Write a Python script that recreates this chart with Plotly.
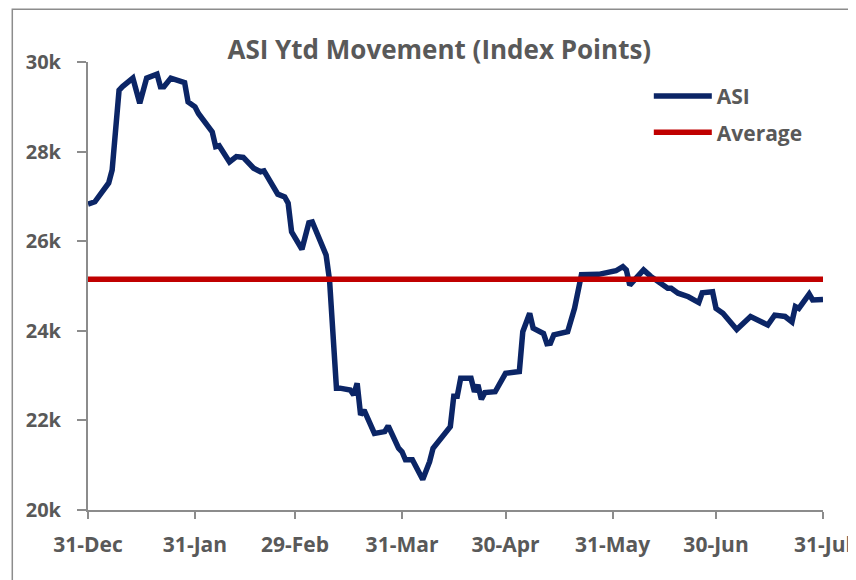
import plotly.graph_objects as go

# ASI daily close, 31-Dec-2019 to 31-Jul-2020
dates = [
    "2019-12-31", "2020-01-02", "2020-01-06", "2020-01-07", "2020-01-09", "2020-01-10",
    "2020-01-13", "2020-01-15", "2020-01-17", "2020-01-20", "2020-01-21", "2020-01-22",
    "2020-01-24", "2020-01-28", "2020-01-29", "2020-01-31", "2020-02-01", "2020-02-05",
    "2020-02-06", "2020-02-07", "2020-02-10", "2020-02-12", "2020-02-14", "2020-02-17",
    "2020-02-19", "2020-02-20", "2020-02-24", "2020-02-26", "2020-02-27", "2020-02-28",
    "2020-03-02", "2020-03-04", "2020-03-05", "2020-03-06", "2020-03-09", "2020-03-10",
    "2020-03-11", "2020-03-12", "2020-03-13", "2020-03-16", "2020-03-17", "2020-03-18",
    "2020-03-19", "2020-03-20", "2020-03-23", "2020-03-26", "2020-03-27", "2020-03-30",
    "2020-03-31", "2020-04-01", "2020-04-03", "2020-04-06", "2020-04-08", "2020-04-09",
    "2020-04-14", "2020-04-15", "2020-04-16", "2020-04-17", "2020-04-20", "2020-04-21",
    "2020-04-22", "2020-04-23", "2020-04-24", "2020-04-27", "2020-04-30", "2020-05-04",
    "2020-05-05", "2020-05-07", "2020-05-08", "2020-05-11", "2020-05-12", "2020-05-13",
    "2020-05-14", "2020-05-18", "2020-05-20", "2020-05-22", "2020-05-27", "2020-05-29",
    "2020-06-01", "2020-06-03", "2020-06-04", "2020-06-05", "2020-06-09", "2020-06-11",
    "2020-06-16", "2020-06-17", "2020-06-19", "2020-06-22", "2020-06-25", "2020-06-26",
    "2020-06-29", "2020-06-30", "2020-07-01", "2020-07-02", "2020-07-06", "2020-07-09",
    "2020-07-10", "2020-07-15", "2020-07-17", "2020-07-20", "2020-07-22", "2020-07-23",
    "2020-07-24", "2020-07-27", "2020-07-28", "2020-07-31",
]
asi = [
    26830, 26880, 27300, 27590, 29370, 29450,
    29640, 29080, 29640, 29730, 29450, 29450,
    29640, 29540, 29110, 29000, 28850, 28440,
    28110, 28130, 27770, 27890, 27870, 27630,
    27550, 27570, 27050, 26990, 26850, 26210,
    25820, 26410, 26430, 26250, 25690, 25130,
    24090, 22720, 22720, 22680, 22570, 22830,
    22120, 22230, 21710, 21750, 21880, 21380,
    21300, 21120, 21120, 20680, 21080, 21380,
    21860, 22540, 22540, 22940, 22940, 22640,
    22790, 22470, 22620, 22640, 23050, 23090,
    23980, 24390, 24060, 23940, 23710, 23720,
    23910, 23980, 24500, 25250, 25260, 25300,
    25340, 25430, 25360, 25020, 25360, 25220,
    24950, 24950, 24840, 24760, 24630, 24850,
    24870, 24500, 24460, 24390, 24030, 24280,
    24320, 24130, 24350, 24320, 24200, 24540,
    24500, 24820, 24690, 24700,
]
average_value = 25150

x_tickvals = ["2019-12-31", "2020-01-31", "2020-02-29", "2020-03-31",
              "2020-04-30", "2020-05-31", "2020-06-30", "2020-07-31"]
x_ticktext = ["31-Dec", "31-Jan", "29-Feb", "31-Mar", "30-Apr", "31-May", "30-Jun", "31-Jul"]
y_tickvals = [20000, 22000, 24000, 26000, 28000, 30000]
y_ticktext = ["20k", "22k", "24k", "26k", "28k", "30k"]

FONT = "'Open Sans', sans-serif"
GREY = "#595959"
AXIS = "#8c8c8c"

fig = go.Figure()
fig.add_trace(go.Scatter(x=dates, y=asi, mode="lines", name="<b>ASI</b>",
                         legendgroup="asi",
                         line=dict(color="#0b2566", width=5.5)))
fig.add_trace(go.Scatter(x=[dates[0], dates[-1]], y=[average_value, average_value],
                         mode="lines", name="<b>Average</b>", legendgroup="avg",
                         line=dict(color="#c00000", width=5.5)))

# chart-area border
fig.add_shape(type="rect", xref="paper", yref="paper",
              x0=-0.103, x1=1.08, y0=-0.2, y1=1.118,
              line=dict(color=AXIS, width=1.5), layer="below")

fig.update_layout(
    width=856, height=580,
    margin=dict(l=80, r=38, t=54, b=78),
    paper_bgcolor="white", plot_bgcolor="white",
    font=dict(family=FONT, color=GREY, size=20),
    title=dict(text="<b>ASI Ytd Movement (Index Points)</b>",
               x=0.478, xref="paper", xanchor="center",
               y=0.9276, yref="container", yanchor="middle",
               font=dict(size=26, color=GREY, family=FONT)),
    legend=dict(x=0.763, y=0.969, xanchor="left", yanchor="top",
                bgcolor="rgba(0,0,0,0)", font=dict(size=21, color=GREY, family=FONT),
                itemwidth=58,
                traceorder="grouped", tracegroupgap=6),
    showlegend=True,
)
fig.update_xaxes(type="date", range=["2019-12-31", "2020-07-31"],
                 tickvals=x_tickvals, ticktext=[f"<b>{t}</b>" for t in x_ticktext],
                 showgrid=False, zeroline=False, showline=True,
                 linecolor=AXIS, linewidth=2,
                 ticks="outside", ticklen=7, tickwidth=2, tickcolor=AXIS,
                 ticklabelstandoff=8,
                 tickfont=dict(size=21, color=GREY, family=FONT))
fig.update_yaxes(range=[20000, 30000],
                 tickvals=y_tickvals, ticktext=[f"<b>{t}</b>" for t in y_ticktext],
                 showgrid=False, zeroline=False, showline=True,
                 linecolor=AXIS, linewidth=2,
                 ticks="outside", ticklen=9, tickwidth=2, tickcolor=AXIS,
                 ticklabelstandoff=12,
                 tickfont=dict(size=20, color=GREY, family=FONT))

fig.write_html("out.html")
